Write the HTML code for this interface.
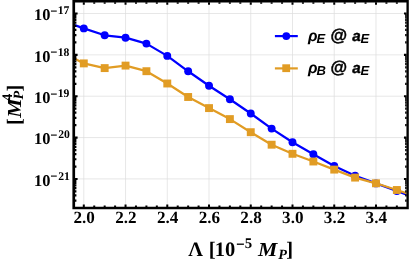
<!DOCTYPE html><html><head><meta charset="utf-8"><style>html,body{margin:0;padding:0;background:#fff}svg{display:block}text{text-rendering:geometricPrecision}</style></head><body><svg width="412" height="262" viewBox="0 0 412 262">
<rect width="412" height="262" fill="#fff"/>
<defs><clipPath id="c"><rect x="75.1" y="2.45" width="331.35" height="204.3"/></clipPath><mask id="m"><rect width="412" height="262" fill="#fff"/></mask></defs>
<path d="M83.80 2.45V206.75M125.54 2.45V206.75M167.28 2.45V206.75M209.02 2.45V206.75M250.76 2.45V206.75M292.50 2.45V206.75M334.24 2.45V206.75M375.98 2.45V206.75M75.1 13.5H406.45M75.1 54.85H406.45M75.1 96.2H406.45M75.1 137.55H406.45M75.1 178.9H406.45" stroke="#dcdcdc" stroke-width="0.7" fill="none"/>
<g clip-path="url(#c)">
<path d="M62.93 20.80L83.80 28.40L104.67 35.30L125.54 37.70L146.41 43.60L167.28 55.90L188.15 71.30L209.02 85.70L229.89 99.20L250.76 113.50L271.63 128.60L292.50 142.30L313.37 154.30L334.24 166.00L355.11 175.70L375.98 183.40L396.85 191.00L417.72 199.00" stroke="#0000ff" stroke-width="2.25" fill="none" stroke-linejoin="round"/>
<circle cx="83.80" cy="28.4" r="3.95" fill="#0000ff"/>
<circle cx="104.67" cy="35.3" r="3.95" fill="#0000ff"/>
<circle cx="125.54" cy="37.7" r="3.95" fill="#0000ff"/>
<circle cx="146.41" cy="43.6" r="3.95" fill="#0000ff"/>
<circle cx="167.28" cy="55.9" r="3.95" fill="#0000ff"/>
<circle cx="188.15" cy="71.3" r="3.95" fill="#0000ff"/>
<circle cx="209.02" cy="85.7" r="3.95" fill="#0000ff"/>
<circle cx="229.89" cy="99.2" r="3.95" fill="#0000ff"/>
<circle cx="250.76" cy="113.5" r="3.95" fill="#0000ff"/>
<circle cx="271.63" cy="128.6" r="3.95" fill="#0000ff"/>
<circle cx="292.50" cy="142.3" r="3.95" fill="#0000ff"/>
<circle cx="313.37" cy="154.3" r="3.95" fill="#0000ff"/>
<circle cx="334.24" cy="166.0" r="3.95" fill="#0000ff"/>
<circle cx="355.11" cy="175.7" r="3.95" fill="#0000ff"/>
<circle cx="375.98" cy="183.4" r="3.95" fill="#0000ff"/>
<circle cx="396.85" cy="191.0" r="3.95" fill="#0000ff"/>
<path d="M62.93 52.50L83.80 63.40L104.67 68.10L125.54 65.60L146.41 71.20L167.28 83.50L188.15 97.00L209.02 108.10L229.89 119.10L250.76 132.20L271.63 144.70L292.50 153.80L313.37 161.50L334.24 169.60L355.11 177.60L375.98 183.30L396.85 190.00L417.72 197.00" stroke="#e19c24" stroke-width="2.25" fill="none" stroke-linejoin="round"/>
<rect x="79.85" y="59.45" width="7.9" height="7.9" fill="#e19c24"/>
<rect x="100.72" y="64.15" width="7.9" height="7.9" fill="#e19c24"/>
<rect x="121.59" y="61.65" width="7.9" height="7.9" fill="#e19c24"/>
<rect x="142.46" y="67.25" width="7.9" height="7.9" fill="#e19c24"/>
<rect x="163.33" y="79.55" width="7.9" height="7.9" fill="#e19c24"/>
<rect x="184.20" y="93.05" width="7.9" height="7.9" fill="#e19c24"/>
<rect x="205.07" y="104.15" width="7.9" height="7.9" fill="#e19c24"/>
<rect x="225.94" y="115.15" width="7.9" height="7.9" fill="#e19c24"/>
<rect x="246.81" y="128.25" width="7.9" height="7.9" fill="#e19c24"/>
<rect x="267.68" y="140.75" width="7.9" height="7.9" fill="#e19c24"/>
<rect x="288.55" y="149.85" width="7.9" height="7.9" fill="#e19c24"/>
<rect x="309.42" y="157.55" width="7.9" height="7.9" fill="#e19c24"/>
<rect x="330.29" y="165.65" width="7.9" height="7.9" fill="#e19c24"/>
<rect x="351.16" y="173.65" width="7.9" height="7.9" fill="#e19c24"/>
<rect x="372.03" y="179.35" width="7.9" height="7.9" fill="#e19c24"/>
<rect x="392.90" y="186.05" width="7.9" height="7.9" fill="#e19c24"/>
</g>
<path d="M83.80 206.95v-2.5M83.80 2.25v2.5M94.23 206.95v-1.4M94.23 2.25v1.4M104.67 206.95v-1.4M104.67 2.25v1.4M115.10 206.95v-1.4M115.10 2.25v1.4M125.54 206.95v-2.5M125.54 2.25v2.5M135.97 206.95v-1.4M135.97 2.25v1.4M146.41 206.95v-1.4M146.41 2.25v1.4M156.84 206.95v-1.4M156.84 2.25v1.4M167.28 206.95v-2.5M167.28 2.25v2.5M177.72 206.95v-1.4M177.72 2.25v1.4M188.15 206.95v-1.4M188.15 2.25v1.4M198.59 206.95v-1.4M198.59 2.25v1.4M209.02 206.95v-2.5M209.02 2.25v2.5M219.45 206.95v-1.4M219.45 2.25v1.4M229.89 206.95v-1.4M229.89 2.25v1.4M240.32 206.95v-1.4M240.32 2.25v1.4M250.76 206.95v-2.5M250.76 2.25v2.5M261.19 206.95v-1.4M261.19 2.25v1.4M271.63 206.95v-1.4M271.63 2.25v1.4M282.06 206.95v-1.4M282.06 2.25v1.4M292.50 206.95v-2.5M292.50 2.25v2.5M302.94 206.95v-1.4M302.94 2.25v1.4M313.37 206.95v-1.4M313.37 2.25v1.4M323.81 206.95v-1.4M323.81 2.25v1.4M334.24 206.95v-2.5M334.24 2.25v2.5M344.68 206.95v-1.4M344.68 2.25v1.4M355.11 206.95v-1.4M355.11 2.25v1.4M365.55 206.95v-1.4M365.55 2.25v1.4M375.98 206.95v-2.5M375.98 2.25v2.5M386.42 206.95v-1.4M386.42 2.25v1.4M396.85 206.95v-1.4M396.85 2.25v1.4" stroke="#000" stroke-width="2.0" fill="none"/>
<path d="M74.89999999999999 13.50h2.7M406.65 13.50h-2.7M74.89999999999999 54.87h2.7M406.65 54.87h-2.7M74.89999999999999 42.42h1.5M406.65 42.42h-1.5M74.89999999999999 35.13h1.5M406.65 35.13h-1.5M74.89999999999999 29.96h1.5M406.65 29.96h-1.5M74.89999999999999 25.95h1.5M406.65 25.95h-1.5M74.89999999999999 22.68h1.5M406.65 22.68h-1.5M74.89999999999999 19.91h1.5M406.65 19.91h-1.5M74.89999999999999 17.51h1.5M406.65 17.51h-1.5M74.89999999999999 15.39h1.5M406.65 15.39h-1.5M74.89999999999999 96.24h2.7M406.65 96.24h-2.7M74.89999999999999 83.79h1.5M406.65 83.79h-1.5M74.89999999999999 76.50h1.5M406.65 76.50h-1.5M74.89999999999999 71.33h1.5M406.65 71.33h-1.5M74.89999999999999 67.32h1.5M406.65 67.32h-1.5M74.89999999999999 64.05h1.5M406.65 64.05h-1.5M74.89999999999999 61.28h1.5M406.65 61.28h-1.5M74.89999999999999 58.88h1.5M406.65 58.88h-1.5M74.89999999999999 56.76h1.5M406.65 56.76h-1.5M74.89999999999999 137.61h2.7M406.65 137.61h-2.7M74.89999999999999 125.16h1.5M406.65 125.16h-1.5M74.89999999999999 117.87h1.5M406.65 117.87h-1.5M74.89999999999999 112.70h1.5M406.65 112.70h-1.5M74.89999999999999 108.69h1.5M406.65 108.69h-1.5M74.89999999999999 105.42h1.5M406.65 105.42h-1.5M74.89999999999999 102.65h1.5M406.65 102.65h-1.5M74.89999999999999 100.25h1.5M406.65 100.25h-1.5M74.89999999999999 98.13h1.5M406.65 98.13h-1.5M74.89999999999999 178.98h2.7M406.65 178.98h-2.7M74.89999999999999 166.53h1.5M406.65 166.53h-1.5M74.89999999999999 159.24h1.5M406.65 159.24h-1.5M74.89999999999999 154.07h1.5M406.65 154.07h-1.5M74.89999999999999 150.06h1.5M406.65 150.06h-1.5M74.89999999999999 146.79h1.5M406.65 146.79h-1.5M74.89999999999999 144.02h1.5M406.65 144.02h-1.5M74.89999999999999 141.62h1.5M406.65 141.62h-1.5M74.89999999999999 139.50h1.5M406.65 139.50h-1.5M74.89999999999999 200.61h1.5M406.65 200.61h-1.5M74.89999999999999 195.44h1.5M406.65 195.44h-1.5M74.89999999999999 191.43h1.5M406.65 191.43h-1.5M74.89999999999999 188.16h1.5M406.65 188.16h-1.5M74.89999999999999 185.39h1.5M406.65 185.39h-1.5M74.89999999999999 182.99h1.5M406.65 182.99h-1.5M74.89999999999999 180.87h1.5M406.65 180.87h-1.5" stroke="#000" stroke-width="2.2" fill="none"/>
<path fill-rule="evenodd" d="M72.4 -0.2H408.8V209.15H72.4ZM75.1 2.45H406.45V206.75H75.1Z" fill="#000"/>
<g mask="url(#m)">
<text x="33.99" y="20.15" font-family="Liberation Serif, serif" font-weight="bold" font-size="16.4">10</text>
<text stroke="#000" stroke-width="0.25" x="50.48" y="14.78" font-family="Liberation Serif, serif" font-weight="bold" font-size="11.7">−</text>
<text x="57.76" y="14.40" font-family="Liberation Serif, serif" font-weight="bold" font-size="11.7">17</text>
<text x="33.99" y="61.50" font-family="Liberation Serif, serif" font-weight="bold" font-size="16.4">10</text>
<text stroke="#000" stroke-width="0.25" x="50.48" y="55.78" font-family="Liberation Serif, serif" font-weight="bold" font-size="11.7">−</text>
<text x="57.76" y="55.75" font-family="Liberation Serif, serif" font-weight="bold" font-size="11.7">18</text>
<text x="33.99" y="102.85" font-family="Liberation Serif, serif" font-weight="bold" font-size="16.4">10</text>
<text stroke="#000" stroke-width="0.25" x="50.48" y="97.78" font-family="Liberation Serif, serif" font-weight="bold" font-size="11.7">−</text>
<text x="57.76" y="97.10" font-family="Liberation Serif, serif" font-weight="bold" font-size="11.7">19</text>
<text x="33.99" y="144.20" font-family="Liberation Serif, serif" font-weight="bold" font-size="16.4">10</text>
<text stroke="#000" stroke-width="0.25" x="50.48" y="138.78" font-family="Liberation Serif, serif" font-weight="bold" font-size="11.7">−</text>
<text x="58.21" y="138.45" font-family="Liberation Serif, serif" font-weight="bold" font-size="11.7">20</text>
<text x="33.99" y="185.55" font-family="Liberation Serif, serif" font-weight="bold" font-size="16.4">10</text>
<text stroke="#000" stroke-width="0.25" x="50.48" y="179.78" font-family="Liberation Serif, serif" font-weight="bold" font-size="11.7">−</text>
<text x="58.21" y="179.80" font-family="Liberation Serif, serif" font-weight="bold" font-size="11.7">21</text>
<text x="84.10" y="223.4" text-anchor="middle" font-family="Liberation Serif, serif" font-weight="bold" font-size="17.1">2.0</text>
<text x="125.84" y="223.4" text-anchor="middle" font-family="Liberation Serif, serif" font-weight="bold" font-size="17.1">2.2</text>
<text x="167.58" y="223.4" text-anchor="middle" font-family="Liberation Serif, serif" font-weight="bold" font-size="17.1">2.4</text>
<text x="209.32" y="223.4" text-anchor="middle" font-family="Liberation Serif, serif" font-weight="bold" font-size="17.1">2.6</text>
<text x="251.06" y="223.4" text-anchor="middle" font-family="Liberation Serif, serif" font-weight="bold" font-size="17.1">2.8</text>
<text x="292.80" y="223.4" text-anchor="middle" font-family="Liberation Serif, serif" font-weight="bold" font-size="17.1">3.0</text>
<text x="334.54" y="223.4" text-anchor="middle" font-family="Liberation Serif, serif" font-weight="bold" font-size="17.1">3.2</text>
<text x="376.28" y="223.4" text-anchor="middle" font-family="Liberation Serif, serif" font-weight="bold" font-size="17.1">3.4</text>
<text x="188.28" y="256.30" font-family="Liberation Serif, serif" font-weight="bold" font-size="20.5">Λ</text>
<text x="208.78" y="256.30" font-family="Liberation Serif, serif" font-weight="bold" font-size="20.5">[</text>
<text x="214.86" y="256.30" font-family="Liberation Serif, serif" font-weight="bold" font-size="20.5">10</text>
<text stroke="#000" stroke-width="0.3" x="236.34" y="249.00" font-family="Liberation Serif, serif" font-weight="bold" font-size="14.4">−</text>
<text x="244.81" y="247.60" font-family="Liberation Serif, serif" font-weight="bold" font-size="14.8">5</text>
<text transform="translate(257.89,256.30) scale(1.06,0.97)" font-family="Liberation Serif, serif" font-weight="bold" font-style="italic" font-size="20.5">M</text>
<text x="278.21" y="259.40" font-family="Liberation Serif, serif" font-weight="bold" font-style="italic" font-size="14.2">P</text>
<text x="286.26" y="256.30" font-family="Liberation Serif, serif" font-weight="bold" font-size="20.5">]</text>
<g transform="translate(21,123.4) rotate(-90)">
<text x="-1.52" y="0.00" font-family="Liberation Serif, serif" font-weight="bold" font-size="20.5">[</text>
<text transform="translate(5.59,0.00) scale(1.06,0.97)" font-family="Liberation Serif, serif" font-weight="bold" font-style="italic" font-size="20.5">M</text>
<text x="22.40" y="-9.50" font-family="Liberation Serif, serif" font-weight="bold" font-size="14.6">4</text>
<text x="23.81" y="2.00" font-family="Liberation Serif, serif" font-weight="bold" font-style="italic" font-size="14.2">P</text>
<text x="31.86" y="0.00" font-family="Liberation Serif, serif" font-weight="bold" font-size="20.5">]</text>
</g>
<path d="M274.9 36.1H297.8" stroke="#0000ff" stroke-width="2.2"/>
<circle cx="286.3" cy="36.1" r="3.9" fill="#0000ff"/>
<text x="307.96" y="40.50" font-family="Liberation Sans, sans-serif" font-weight="bold" font-style="italic" font-size="15.6">ρ</text>
<text x="316.47" y="43.20" font-family="Liberation Sans, sans-serif" font-weight="bold" font-style="italic" font-size="13">E</text>
<text stroke="#000" stroke-width="0.45" x="330.15" y="40.60" font-family="Liberation Sans, sans-serif" font-weight="bold" font-style="italic" font-size="17.0">@</text>
<text stroke="#000" stroke-width="0.4" x="352.33" y="40.50" font-family="Liberation Sans, sans-serif" font-weight="bold" font-style="italic" font-size="15.2">a</text>
<text x="360.57" y="43.20" font-family="Liberation Sans, sans-serif" font-weight="bold" font-style="italic" font-size="13">E</text>
<path d="M274.9 68.4H297.8" stroke="#e19c24" stroke-width="2.2"/>
<rect x="282.3" y="64.30000000000001" width="7.8" height="7.8" fill="#e19c24"/>
<text x="307.96" y="72.50" font-family="Liberation Sans, sans-serif" font-weight="bold" font-style="italic" font-size="15.6">ρ</text>
<text x="316.47" y="75.20" font-family="Liberation Sans, sans-serif" font-weight="bold" font-style="italic" font-size="13">B</text>
<text stroke="#000" stroke-width="0.45" x="330.15" y="72.60" font-family="Liberation Sans, sans-serif" font-weight="bold" font-style="italic" font-size="17.0">@</text>
<text stroke="#000" stroke-width="0.4" x="352.33" y="72.50" font-family="Liberation Sans, sans-serif" font-weight="bold" font-style="italic" font-size="15.2">a</text>
<text x="360.57" y="75.20" font-family="Liberation Sans, sans-serif" font-weight="bold" font-style="italic" font-size="13">E</text>
</g>
</svg></body></html>
